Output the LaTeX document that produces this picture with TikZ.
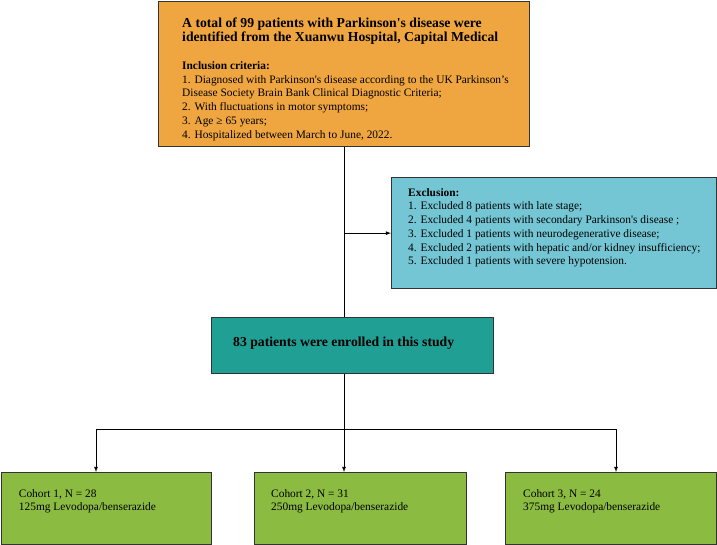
\documentclass[tikz,border=0pt]{standalone}
\usepackage{fontspec}
\setmainfont{Liberation Serif}
\usepackage{tikz}
\usetikzlibrary{positioning, arrows}
\definecolor{inclorange}{HTML}{F0A640}
\definecolor{exclblue}{HTML}{74C6D4}
\definecolor{enrollteal}{HTML}{20A095}
\definecolor{cohortgreen}{HTML}{8CBB42}
\newcommand{\titlefont}{\fontsize{13.7}{16}\selectfont\bfseries}
\newcommand{\bodyfont}{\fontsize{11.4}{13.75}\selectfont\mdseries}
\newcommand{\sq}{\textquotesingle}
\tikzstyle{arrow} = [->,>=latex, line width=0.8pt]
\tikzstyle{box} = [draw=black!80, line width=1.3pt, anchor=north west, inner sep=0pt]
\tikzstyle{txt} = [align=left, inner sep=0pt, font=\bodyfont]

\begin{document}
\begin{tikzpicture}[x=1pt, y=-1pt]
        \useasboundingbox (0,0) rectangle (717,545);
        % boxes
        \node[box, fill=inclorange, minimum width=371pt, minimum height=145pt] (total) at (158,1) {};
        \node[box, fill=exclblue, minimum width=325pt, minimum height=111pt] (excl) at (391,177) {};
        \node[box, fill=enrollteal, minimum width=282pt, minimum height=56pt] (enrolled) at (211,317) {};
        \node[box, fill=cohortgreen, minimum width=210pt, minimum height=72pt] (c1) at (0.7,472) {};
        \node[box, fill=cohortgreen, minimum width=212pt, minimum height=72pt] (c2) at (254,472) {};
        \node[box, fill=cohortgreen, minimum width=211pt, minimum height=72pt] (c3) at (505,472) {};
        % texts
        \node[txt, below right=17pt and 24pt of total.north west] (totaltxt) {%
          \titlefont A total of 99 patients with Parkinson\sq s disease were\\
          \titlefont identified from the Xuanwu Hospital, Capital Medical\\[14pt]
          \textbf{Inclusion criteria:}\\
          1. Diagnosed with Parkinson\sq s disease according to the UK Parkinson’s\\
          Disease Society Brain Bank Clinical Diagnostic Criteria;\\
          2. With fluctuations in motor symptoms;\\
          3. Age ≥ 65 years;\\
          4. Hospitalized between March to June, 2022.};
        \node[txt, below right=11pt and 17pt of excl.north west] (excltxt) {\textbf{Exclusion:}\\
          1. Excluded 8 patients with late stage;\\
          2. Excluded 4 patients with secondary Parkinson\sq s disease ;\\
          3. Excluded 1 patients with neurodegenerative disease;\\
          4. Excluded 2 patients with hepatic and/or kidney insufficiency;\\
          5. Excluded 1 patients with severe hypotension.};
        \node[txt, right=22pt of enrolled.west, yshift=2pt, font=\titlefont] (enrolledtxt) {83 patients were enrolled in this study};
        \node[txt, below right=17pt and 18pt of c1.north west] (c1txt) {Cohort 1, N = 28\\125mg Levodopa/benserazide};
        \node[txt, below right=17pt and 17pt of c2.north west] (c2txt) {Cohort 2, N = 31\\250mg Levodopa/benserazide};
        \node[txt, below right=17pt and 18pt of c3.north west] (c3txt) {Cohort 3, N = 24\\375mg Levodopa/benserazide};
        % connectors
        \coordinate (split) at (344,429);
        \coordinate (b1) at (96,429);
        \coordinate (b3) at (616,429);
        \draw[line width=0.8pt] (total.south) -- (total.south |- enrolled.north);
        \draw[arrow] (total.south |- excl.west) -- (excl.west);
        \draw[line width=0.8pt] (split |- enrolled.south) -- (split);
        \draw[line width=0.8pt] (b1) -- (b3);
        \draw[arrow] (b1) -- (b1 |- c1.north);
        \draw[arrow] (split) -- (split |- c2.north);
        \draw[arrow] (b3) -- (b3 |- c3.north);
      \end{tikzpicture}
\end{document}
